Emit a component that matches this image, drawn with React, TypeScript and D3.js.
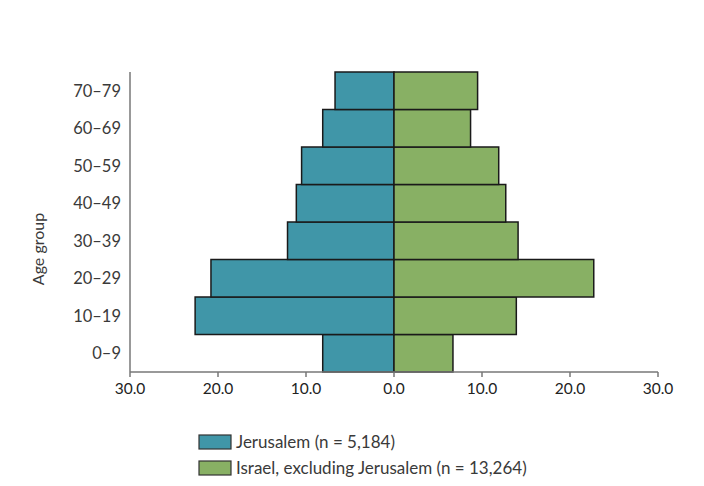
import React from "react";
import * as d3 from "d3";

const ageGroups = ["0–9", "10–19", "20–29", "30–39", "40–49", "50–59", "60–69", "70–79"];
const jerusalem = [8.1, 22.6, 20.8, 12.1, 11.1, 10.5, 8.1, 6.7];
const israelExJ = [6.7, 13.9, 22.7, 14.1, 12.7, 11.9, 8.7, 9.5];
const xTicks = [-30, -20, -10, 0, 10, 20, 30];
const seriesNames = ["Jerusalem (n = 5,184)", "Israel, excluding Jerusalem (n = 13,264)"];
const colors = ["#4096a8", "#88b064"];

const W = 704;
const H = 486;
const font = "Lato, 'Open Sans', sans-serif";

export default function App() {
  const x = d3.scaleLinear().domain([-30, 30]).range([130, 658]);
  const y = d3
    .scaleBand<string>()
    .domain([...ageGroups].reverse())
    .range([72, 372])
    .padding(0);
  const axisColor = "#777";
  return (
    <svg width={W} height={H} style={{ position: "absolute", left: 0, top: 0, background: "#fff" }}>
      {/* bars */}
      {ageGroups.map((g, i) => (
        <g key={g}>
          <rect
            x={x(-jerusalem[i])}
            y={y(g)!}
            width={x(0) - x(-jerusalem[i])}
            height={y.bandwidth()}
            fill={colors[0]}
            stroke="#1a1a1a"
            strokeWidth={1.5}
          />
          <rect
            x={x(0)}
            y={y(g)!}
            width={x(israelExJ[i]) - x(0)}
            height={y.bandwidth()}
            fill={colors[1]}
            stroke="#1a1a1a"
            strokeWidth={1.5}
          />
        </g>
      ))}
      {/* y axis */}
      <line x1={130} x2={130} y1={72} y2={372} stroke={axisColor} strokeWidth={1.5} />
      {ageGroups.map((g) => (
        <text
          key={g}
          x={121}
          y={y(g)! + y.bandwidth() / 2}
          dy="0.35em"
          textAnchor="end"
          fontFamily={font}
          fontSize={16.5}
          fill="#3a3a3a"
        >
          {g}
        </text>
      ))}
      <text
        transform={`translate(44,249) rotate(-90)`}
        textAnchor="middle"
        fontFamily={font}
        fontSize={16}
        fill="#3a3a3a"
      >
        Age group
      </text>
      {/* x axis */}
      <line x1={130} x2={658} y1={372} y2={372} stroke={axisColor} strokeWidth={1.5} />
      {xTicks.map((t) => (
        <g key={t}>
          <line x1={x(t)} x2={x(t)} y1={372} y2={377} stroke={axisColor} strokeWidth={1.5} />
          <text
            x={x(t)}
            y={394}
            textAnchor="middle"
            fontFamily={font}
            fontSize={15.5}
            fill="#222"
          >
            {Math.abs(t).toFixed(1)}
          </text>
        </g>
      ))}
      {/* legend */}
      {seriesNames.map((s, i) => (
        <g key={s} transform={`translate(199,${435 + i * 26})`}>
          <rect x={0} y={0} width={32} height={14} fill={colors[i]} stroke="#333" strokeWidth={1.2} />
          <text x={37} y={7} dy="0.38em" fontFamily={font} fontSize={17} fill="#3a3a3a">
            {s}
          </text>
        </g>
      ))}
    </svg>
  );
}
